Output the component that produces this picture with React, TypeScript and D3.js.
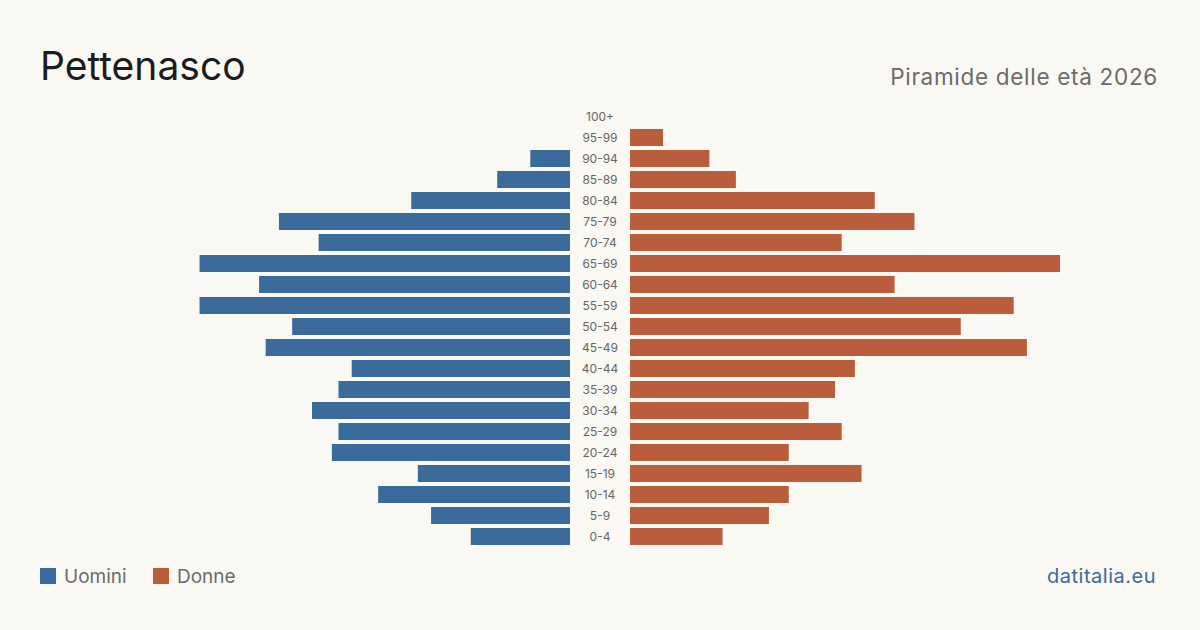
import * as React from "react"
import * as d3 from "d3"

// age classes, top of the pyramid first
const ageGroups: ReadonlyArray<string> = [
    "100+", "95-99", "90-94", "85-89", "80-84", "75-79", "70-74", "65-69", "60-64", "55-59",
    "50-54", "45-49", "40-44", "35-39", "30-34", "25-29", "20-24", "15-19", "10-14", "5-9", "0-4",
]
const uomini: ReadonlyArray<number> = [
    0, 0, 6, 11, 24, 44, 38, 56, 47, 56, 42, 46, 33, 35, 39, 35, 36, 23, 29, 21, 15,
]
const donne: ReadonlyArray<number> = [
    0, 5, 12, 16, 37, 43, 32, 65, 40, 58, 50, 60, 34, 31, 27, 32, 24, 35, 24, 21, 14,
]
const legendLabels: ReadonlyArray<string> = ["Uomini", "Donne"]

const WIDTH = 1200
const HEIGHT = 630
const BLUE = "#3b6b9b"
const RED = "#b95d3d"
const FONT = "Inter, 'Noto Sans', sans-serif"

const App = (): JSX.Element => {
    const ref = React.useRef<SVGSVGElement | null>(null)

    React.useEffect(() => {
        const svg = d3.select(ref.current)
        svg.selectAll("*").remove()

        svg.append("rect")
            .attr("width", WIDTH)
            .attr("height", HEIGHT)
            .attr("fill", "#faf8f3")

        // title + subtitle
        svg.append("text")
            .attr("x", 40)
            .attr("y", 80)
            .attr("font-family", FONT)
            .attr("font-size", 39)
            .attr("fill", "#1c1c1c")
            .text("Pettenasco")

        svg.append("text")
            .attr("x", 1158)
            .attr("y", 85)
            .attr("text-anchor", "end")
            .attr("font-family", FONT)
            .attr("font-size", 22.5)
            .attr("letter-spacing", 0.7)
            .attr("fill", "#6b6b6b")
            .text("Piramide delle età 2026")

        const maxVal = d3.max([...uomini, ...donne]) || 1
        const x = d3.scaleLinear().domain([0, maxVal]).range([0, 430])

        const pi = 4 / 21
        const y = d3.scaleBand<string>()
            .domain(ageGroups as string[])
            .range([106, 106 + 21 * ageGroups.length])
            .paddingInner(pi)
            .paddingOuter(pi / 2)

        const leftEdge = 570
        const rightEdge = 630

        const g = svg.append("g")

        // men, growing to the left
        g.selectAll(".bar-m")
            .data(ageGroups)
            .enter()
            .append("rect")
            .attr("class", "bar-m")
            .attr("x", (_d: string, i: number) => leftEdge - x(uomini[i]))
            .attr("y", (d: string) => y(d) as number)
            .attr("width", (_d: string, i: number) => x(uomini[i]))
            .attr("height", y.bandwidth())
            .attr("fill", BLUE)

        // women, growing to the right
        g.selectAll(".bar-f")
            .data(ageGroups)
            .enter()
            .append("rect")
            .attr("class", "bar-f")
            .attr("x", rightEdge)
            .attr("y", (d: string) => y(d) as number)
            .attr("width", (_d: string, i: number) => x(donne[i]))
            .attr("height", y.bandwidth())
            .attr("fill", RED)

        // age labels in the middle
        g.selectAll(".age")
            .data(ageGroups)
            .enter()
            .append("text")
            .attr("class", "age")
            .attr("x", 600)
            .attr("y", (d: string) => (y(d) as number) + y.bandwidth() / 2)
            .attr("dy", "0.35em")
            .attr("text-anchor", "middle")
            .attr("font-family", FONT)
            .attr("font-size", 12)
            .attr("fill", "#666")
            .text((d: string) => d)

        // legend
        const legendX = [40, 153]
        const colors = [BLUE, RED]
        const legend = svg.append("g")
        legendLabels.forEach((label, i) => {
            legend.append("rect")
                .attr("x", legendX[i])
                .attr("y", 568)
                .attr("width", 16)
                .attr("height", 16)
                .attr("fill", colors[i])
            legend.append("text")
                .attr("x", legendX[i] + 24)
                .attr("y", 583)
                .attr("font-family", FONT)
                .attr("font-size", 19)
                .attr("fill", "#6b6b6b")
                .text(label)
        })

        svg.append("text")
            .attr("x", 1156)
            .attr("y", 583)
            .attr("text-anchor", "end")
            .attr("font-family", FONT)
            .attr("font-size", 20)
            .attr("letter-spacing", 0.5)
            .attr("fill", BLUE)
            .text("datitalia.eu")
    }, [])

    return (
        <div style={{ position: "fixed", left: 0, top: 0 }}>
            <svg ref={ref} width={WIDTH} height={HEIGHT} style={{ display: "block" }} />
        </div>
    )
}

export default App
